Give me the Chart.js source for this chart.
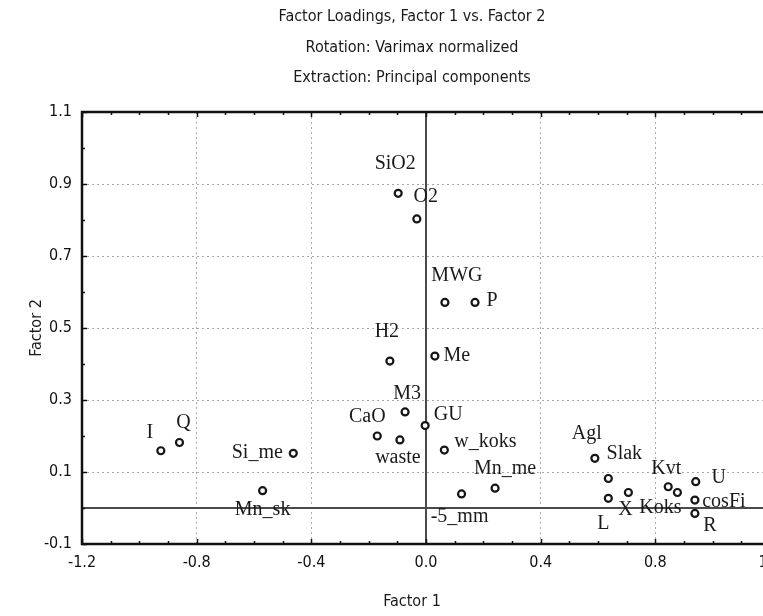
<!DOCTYPE html>
<html>
<head>
<meta charset="utf-8">
<title>Factor Loadings</title>
<script src="https://cdn.jsdelivr.net/npm/chart.js@4.4.1/dist/chart.umd.min.js"></script>
<style>
  html, body { margin: 0; padding: 0; background: #fff; overflow: hidden; }
  #wrap { position: relative; width: 780px; height: 616px; }
</style>
</head>
<body>
<div id="wrap"><canvas id="loadings" width="780" height="616"></canvas></div>
<script>
// loadings of each variable on the two rotated factors
const varNames = ['SiO2', 'O2', 'MWG', 'P', 'H2', 'Me', 'M3', 'GU', 'CaO', 'waste', 'w_koks', '-5_mm', 'Mn_me',
                  'I', 'Q', 'Si_me', 'Mn_sk', 'Agl', 'Slak', 'L', 'X', 'Kvt', 'Koks', 'U', 'cosFi', 'R'];
const factor1 = [-0.097, -0.032, 0.066, 0.171, -0.126, 0.031, -0.073, -0.003, -0.170, -0.091, 0.064, 0.124, 0.241,
                 -0.925, -0.860, -0.463, -0.570, 0.589, 0.636, 0.636, 0.706, 0.845, 0.877, 0.941, 0.938, 0.938];
const factor2 = [0.874, 0.803, 0.571, 0.571, 0.408, 0.422, 0.267, 0.229, 0.200, 0.189, 0.161, 0.039, 0.055,
                 0.159, 0.182, 0.152, 0.048, 0.138, 0.082, 0.027, 0.043, 0.059, 0.043, 0.073, 0.022, -0.015];

const xTicks = [-1.2, -0.8, -0.4, 0.0, 0.4, 0.8, 1.2];
const yTicks = [-0.1, 0.1, 0.3, 0.5, 0.7, 0.9, 1.1];

const titleLines = ['Factor Loadings, Factor 1 vs. Factor 2', 'Rotation: Varimax normalized', 'Extraction: Principal components'];
const xTitle = 'Factor 1';
const yTitle = 'Factor 2';

const sansFont = "'Liberation Sans Narrow', 'DejaVu Sans Condensed', 'Liberation Sans', Arial, sans-serif";
const serifFont = "'Liberation Serif', 'Times New Roman', serif";

// where each name sits relative to its marker (centre of text)
const labelOffset = {
    'SiO2': [-3, -30], 'O2': [9, -22], 'MWG': [12, -27], 'P': [17, -2], 'H2': [-3, -29], 'Me': [22, 0],
    'M3': [2, -18], 'GU': [23, -11], 'CaO': [-10, -19], 'waste': [-2, 18], 'w_koks': [41, -8],
    '-5_mm': [-2, 23], 'Mn_me': [10, -19], 'I': [-11, -18], 'Q': [4, -20], 'Si_me': [-36, -1],
    'Mn_sk': [0, 19], 'Agl': [-8, -25], 'Slak': [16, -25], 'L': [-5, 25], 'X': [-3, 17], 'Kvt': [-2, -18],
    'Koks': [-17, 15], 'U': [23, -4], 'cosFi': [29, 2], 'R': [15, 12],
};

const points = varNames.map((name, i) => ({ x: factor1[i], y: factor2[i] }));

const isEdgeOrZero = (v, ticks) => Math.abs(v) < 1e-9 || Math.abs(v - ticks[0]) < 1e-9 || Math.abs(v - ticks[ticks.length - 1]) < 1e-9;

const plotDecor = {
    id: 'plotDecor',
    beforeDatasetsDraw(chart) {
        const { ctx, chartArea: a, scales: { x, y } } = chart;
        ctx.save();

        // zero lines
        ctx.strokeStyle = '#4a4a4a';
        ctx.lineWidth = 2;
        const x0 = Math.round(x.getPixelForValue(0));
        const y0 = Math.round(y.getPixelForValue(0));
        ctx.beginPath();
        ctx.moveTo(x0, a.top);
        ctx.lineTo(x0, a.bottom);
        ctx.moveTo(a.left, y0);
        ctx.lineTo(a.right, y0);
        ctx.stroke();

        // frame
        ctx.strokeStyle = '#111';
        ctx.lineWidth = 2.5;
        ctx.strokeRect(a.left, a.top, a.right - a.left, a.bottom - a.top);

        // inward ticks every 0.1
        ctx.lineWidth = 1.5;
        ctx.beginPath();
        for (let i = -12; i <= 12; i++) {
            const v = i / 10;
            const px = Math.round(x.getPixelForValue(v)) + 0.5;
            const len = xTicks.some(t => Math.abs(t - v) < 1e-9) ? 5 : 3;
            ctx.moveTo(px, a.bottom);
            ctx.lineTo(px, a.bottom - len);
            ctx.moveTo(px, a.top);
            ctx.lineTo(px, a.top + len);
        }
        for (let i = -1; i <= 11; i++) {
            const v = i / 10;
            const py = Math.round(y.getPixelForValue(v)) + 0.5;
            const len = yTicks.some(t => Math.abs(t - v) < 1e-9) ? 5 : 3;
            ctx.moveTo(a.left, py);
            ctx.lineTo(a.left + len, py);
            ctx.moveTo(a.right, py);
            ctx.lineTo(a.right - len, py);
        }
        ctx.stroke();
        ctx.restore();
    },
    afterDatasetsDraw(chart) {
        const { ctx } = chart;
        const meta = chart.getDatasetMeta(0);
        ctx.save();
        ctx.font = `20px ${serifFont}`;
        ctx.fillStyle = '#1a1a1a';
        ctx.textAlign = 'center';
        ctx.textBaseline = 'middle';
        meta.data.forEach((pt, i) => {
            const name = varNames[i];
            const off = labelOffset[name] || [0, -16];
            ctx.fillText(name, pt.x + off[0], pt.y + off[1]);
        });
        ctx.restore();
    },
    afterDraw(chart) {
        const { ctx } = chart;
        ctx.save();
        ctx.fillStyle = '#1a1a1a';
        ctx.textAlign = 'center';
        ctx.textBaseline = 'middle';
        ctx.font = `16px ${sansFont}`;
        titleLines.forEach((line, i) => ctx.fillText(line, 412, 17 + i * 30.5));
        ctx.fillText(xTitle, 412, 602);
        ctx.translate(37, 328);
        ctx.rotate(-Math.PI / 2);
        ctx.fillText(yTitle, 0, 0);
        ctx.restore();
    },
};

new Chart(document.getElementById('loadings'), {
    type: 'scatter',
    data: {
        datasets: [{
            data: points,
            pointStyle: 'circle',
            pointRadius: 3.5,
            pointHoverRadius: 3.5,
            borderWidth: 2.2,
            borderColor: '#151515',
            backgroundColor: '#ffffff',
        }],
    },
    options: {
        responsive: false,
        animation: false,
        events: [],
        layout: { padding: { top: 112, right: 10, bottom: 0, left: 0 } },
        plugins: {
            legend: { display: false },
            tooltip: { enabled: false },
        },
        scales: {
            x: {
                type: 'linear',
                min: -1.2,
                max: 1.2,
                afterBuildTicks: scale => { scale.ticks = xTicks.map(v => ({ value: v })); },
                afterFit: scale => {
                    scale.height = 72;
                    scale.paddingLeft = 0;
                    scale.paddingRight = 0;
                },
                grid: {
                    drawTicks: false,
                    color: c => isEdgeOrZero(c.tick.value, xTicks) ? 'rgba(0,0,0,0)' : '#a9a9a9',
                    lineWidth: 1,
                },
                border: { display: false, dash: [2, 3] },
                ticks: {
                    padding: 9,
                    color: '#111',
                    font: { family: sansFont, size: 16 },
                    maxRotation: 0,
                    callback: v => v.toFixed(1),
                },
            },
            y: {
                type: 'linear',
                min: -0.1,
                max: 1.1,
                afterBuildTicks: scale => { scale.ticks = yTicks.map(v => ({ value: v })); },
                afterFit: scale => {
                    scale.width = 82;
                    scale.paddingTop = 0;
                    scale.paddingBottom = 0;
                },
                grid: {
                    drawTicks: false,
                    color: c => isEdgeOrZero(c.tick.value, yTicks) ? 'rgba(0,0,0,0)' : '#a9a9a9',
                    lineWidth: 1,
                },
                border: { display: false, dash: [2, 3] },
                ticks: {
                    padding: 10,
                    color: '#111',
                    font: { family: sansFont, size: 16 },
                    callback: v => v.toFixed(1),
                },
            },
        },
    },
    plugins: [plotDecor],
});
</script>
</body>
</html>
